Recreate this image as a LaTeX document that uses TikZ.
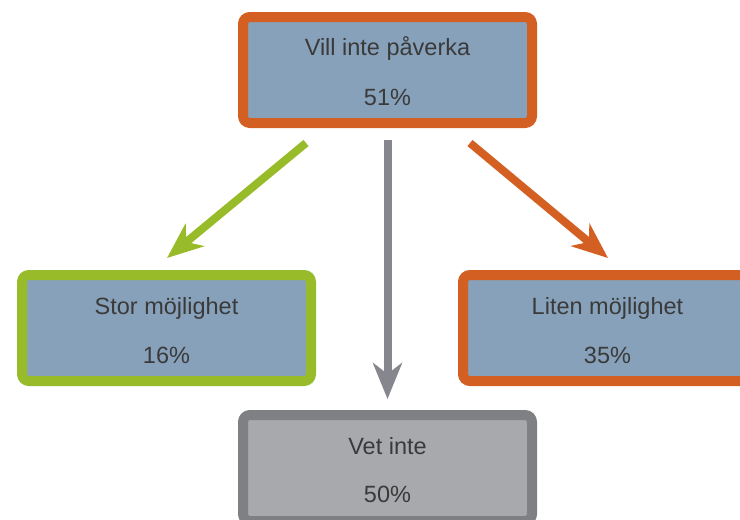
\documentclass[tikz,border=0pt]{standalone}
\usepackage{fontspec}
\setmainfont{Liberation Sans}
\usetikzlibrary{arrows.meta}
\definecolor{boxorange}{HTML}{D35F22}
\definecolor{boxgreen}{HTML}{98BC29}
\definecolor{boxblue}{HTML}{87A1BA}
\definecolor{boxgrayfill}{HTML}{A8A9AD}
\definecolor{boxgrayline}{HTML}{7F8084}
\definecolor{arrowgray}{HTML}{86868E}
\definecolor{txt}{HTML}{3A3A3A}
\tikzset{
  card/.style={rectangle, rounded corners=7pt, line width=10pt,
    minimum width=289pt, minimum height=106pt, inner sep=0pt},
  lbl/.style={anchor=base, text=txt, font=\fontsize{23.5}{28}\selectfont, inner sep=0pt},
  conn/.style={line width=8pt, -{Stealth[length=36pt, width=29pt, inset=11pt]}},
}
\begin{document}
\begin{tikzpicture}[x=1pt, y=-1pt]
\useasboundingbox (0,0) rectangle (740,520);
\clip (0,0) rectangle (740,520);
% boxes
\node[card, draw=boxorange, fill=boxblue] (top) at (387.5,70) {};
\node[card, draw=boxgreen, fill=boxblue] (left) at (166.5,328) {};
\node[card, draw=boxorange, fill=boxblue] (right) at (607.5,328) {};
\node[card, draw=boxgrayline, fill=boxgrayfill] (bottom) at (387.5,468) {};
% labels
\node[lbl] (topa) at (387.5,55) {Vill inte påverka};
\node[lbl] (topb) at (387.5,105) {51\%};
\node[lbl] (lefta) at (166.5,314) {Stor möjlighet};
\node[lbl] (leftb) at (166.5,363) {16\%};
\node[lbl] (righta) at (607.5,314) {Liten möjlighet};
\node[lbl] (rightb) at (607.5,363) {35\%};
\node[lbl] (bota) at (387.5,454) {Vet inte};
\node[lbl] (botb) at (387.5,502) {50\%};
% connector ends
\coordinate (gs) at (306,143);
\coordinate (ge) at (167,258);
\coordinate (ms) at (387.5,140);
\coordinate (me) at (387.5,399);
\coordinate (os) at (470,143);
\coordinate (oe) at (608,258);
\draw[conn, draw=boxgreen] (gs) -- (ge);
\draw[conn, draw=arrowgray] (ms) -- (me);
\draw[conn, draw=boxorange] (os) -- (oe);
\end{tikzpicture}
\end{document}
